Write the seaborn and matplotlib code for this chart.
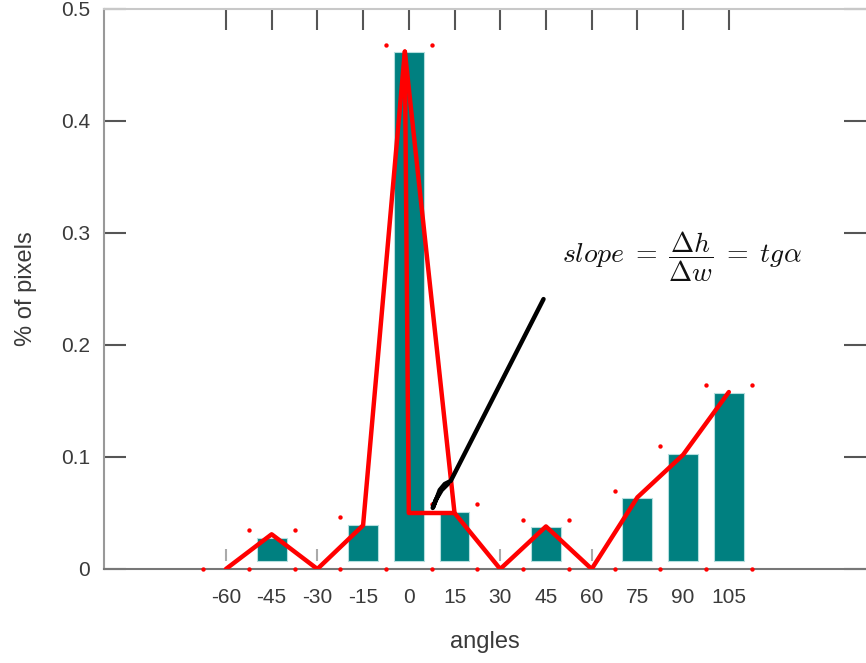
import matplotlib
matplotlib.use("Agg")
import matplotlib.pyplot as plt
import seaborn as sns
import numpy as np
import pandas as pd

# ---- data ----
angles = [-60, -45, -30, -15, 0, 15, 30, 45, 60, 75, 90, 105]
tick_labels = ["-60", "-45", "-30", "-15", "0", "15", "30", "45", "60", "75", "90", "105"]

bar_angles = [-45, -15, 0, 15, 45, 75, 90, 105]
bar_values = [0.028, 0.039, 0.462, 0.051, 0.0375, 0.0635, 0.1027, 0.157]
bar_base = 0.007

line_x = [-60, -45, -30, -15, -1.3, 15, 30, 45, 60, 75, 90, 105]
line_y = [0.0, 0.031, 0.0, 0.039, 0.462, 0.050, 0.0, 0.038, 0.0, 0.064, 0.102, 0.158]

tri_x = [15, 0, -1.3]
tri_y = [0.050, 0.050, 0.462]

dot_x = [-67.5, -52.5, -37.5, -22.5, -7.5, 7.5, 22.5, 37.5, 52.5, 67.5, 82.5, 97.5, 112.5,
         -52.5, -37.5, -22.5, -7.5, 7.5, 7.5, 22.5, 37.5, 52.5, 67.5, 82.5, 97.5, 112.5]
dot_y = [0]*13 + [0.035, 0.035, 0.046, 0.468, 0.468, 0.058, 0.058, 0.044, 0.044, 0.070, 0.110, 0.164, 0.164]

pen_x = [44.2, 13.75, 11.8, 10.15, 9.17, 7.86, 8.84, 10.8, 12.8]
pen_y = [0.241, 0.0786, 0.0759, 0.0705, 0.0634, 0.0545, 0.0616, 0.0705, 0.0759]

formula = r"$slope\;=\;\dfrac{\Delta h}{\Delta w}\;=\;tg\alpha$"

# ---- style ----
sns.set_style("white")
plt.rcParams["font.family"] = ["Liberation Sans", "DejaVu Sans"]
plt.rcParams["mathtext.fontset"] = "cm"

fig = plt.figure(figsize=(8.66, 6.63), dpi=100)
W, H = 866, 663
ax = fig.add_axes([104 / W, 1 - 569 / H, 762 / W, 560 / H])

teal = "#008080"
heights = [v - bar_base for v in bar_values]
ax.bar(bar_angles, heights, bottom=bar_base, width=9.8, color=teal,
       edgecolor="#b5dede", linewidth=0.8, zorder=2)

lw_df = pd.DataFrame({"x": line_x, "y": line_y})
sns.lineplot(data=lw_df, x="x", y="y", sort=False, estimator=None, color="#ff0000",
             linewidth=3.2, ax=ax, zorder=4)
tri_df = pd.DataFrame({"x": tri_x, "y": tri_y})
sns.lineplot(data=tri_df, x="x", y="y", sort=False, estimator=None, color="#ff0000",
             linewidth=3.2, ax=ax, zorder=4)
dot_df = pd.DataFrame({"x": dot_x, "y": dot_y})
sns.scatterplot(data=dot_df, x="x", y="y", color="#ff0000", s=10, linewidth=0,
                ax=ax, zorder=5, clip_on=False)
pen_df = pd.DataFrame({"x": pen_x, "y": pen_y})
sns.lineplot(data=pen_df, x="x", y="y", sort=False, estimator=None, color="black",
             linewidth=3.2, ax=ax, zorder=6)

ax.text(89.5, 0.279, formula, fontsize=20, ha="center", va="center", color="#111111")

ax.set_xlim(-100, 150)
ax.set_ylim(0, 0.5)
ax.set_xticks(angles)
ax.set_xticklabels(tick_labels)
ax.set_yticks([0, 0.1, 0.2, 0.3, 0.4, 0.5])
ax.set_yticklabels(["0", "0.1", "0.2", "0.3", "0.4", "0.5"])

ax.tick_params(axis="x", bottom=False, top=True, direction="in", length=15,
               width=1.5, color="#555555", labelsize=15, labelcolor="#3a3a3a", pad=14)
ax.tick_params(axis="y", left=True, right=True, direction="in", length=16,
               width=1.5, color="#555555", labelsize=15, labelcolor="#3a3a3a", pad=10)

ax.spines["right"].set_visible(False)
ax.spines["top"].set_color("#c8c8c8")
ax.spines["top"].set_linewidth(1.5)
ax.spines["left"].set_color("#999999")
ax.spines["left"].set_linewidth(1.5)
ax.spines["bottom"].set_color("#777777")
ax.spines["bottom"].set_linewidth(1.5)

ax.set_xlabel("angles", fontsize=17, color="#3a3a3a", labelpad=17)
ax.set_ylabel("% of pixels", fontsize=17, color="#3a3a3a", labelpad=17)

sec = ax.secondary_xaxis(8 / 560)
sec.set_xticks(angles)
sec.set_xticklabels([""] * len(angles))
sec.tick_params(direction="in", length=8.6, width=1.5, color="#aaaaaa")
sec.spines["bottom"].set_visible(False)
sec.spines["top"].set_visible(False)

fig.savefig("out.png", dpi=100)
